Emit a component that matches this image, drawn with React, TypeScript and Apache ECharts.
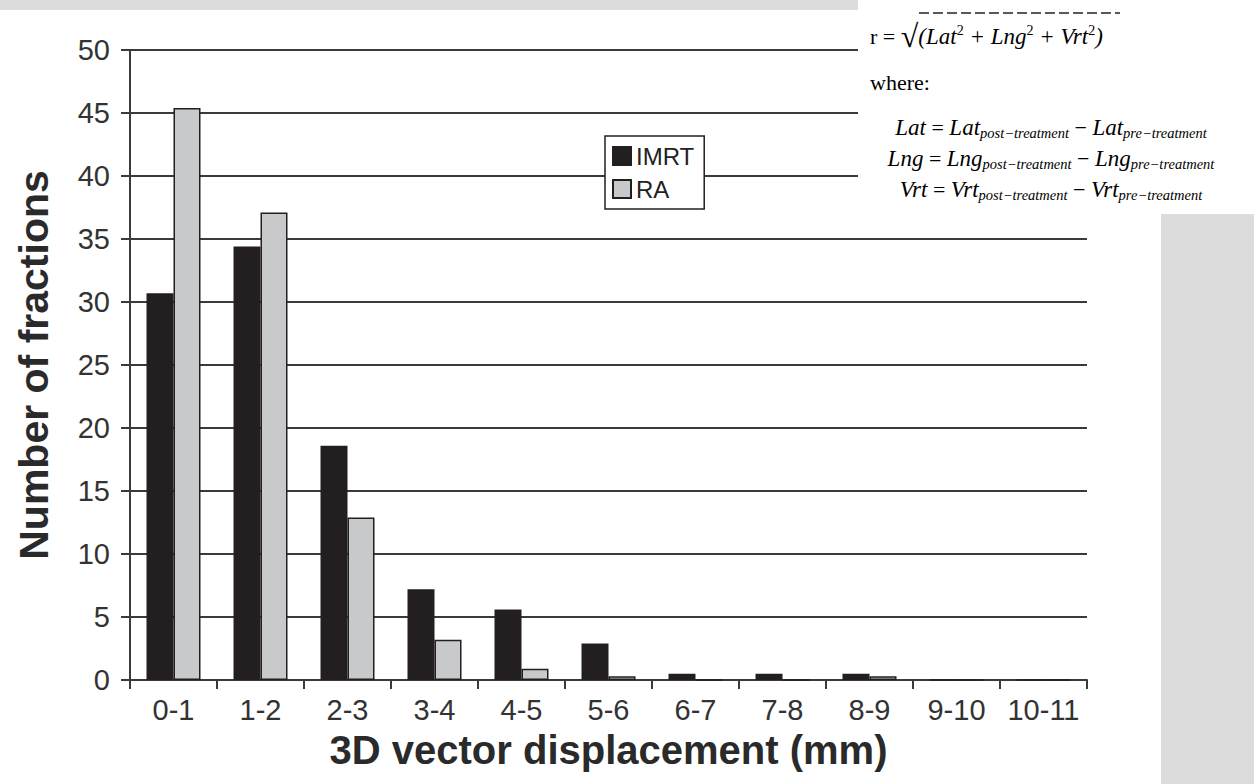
import React, { useEffect, useRef } from "react";
import * as echarts from "echarts";

const categories = ["0-1", "1-2", "2-3", "3-4", "4-5", "5-6", "6-7", "7-8", "8-9", "9-10", "10-11"];
const imrtValues = [30.7, 34.4, 18.6, 7.2, 5.6, 2.9, 0.5, 0.5, 0.5, 0, 0];
const raValues = [45.4, 37.1, 12.9, 3.2, 0.9, 0.3, 0, 0, 0.3, 0, 0];
const yTicks = { min: 0, max: 50, interval: 5 };

const DARK = "#231f20";
const GREY = "#c8c9cb";
const AXIS = "#3a3a3a";

export default function App() {
  const ref = useRef<HTMLDivElement>(null);
  useEffect(() => {
    document.body.style.margin = "0";
    const chart = echarts.init(ref.current!, undefined, { renderer: "svg" });
    const serif = "'Liberation Serif', 'DejaVu Serif', serif";
    const rich = {
      n: { fontFamily: serif, fontSize: 22, color: "#222", lineHeight: 26, verticalAlign: "middle" },
      i: { fontFamily: serif, fontStyle: "italic", fontSize: 23, color: "#222", lineHeight: 26, verticalAlign: "middle" },
      sub: { fontFamily: serif, fontStyle: "italic", fontSize: 14.5, color: "#222", lineHeight: 14, verticalAlign: "bottom" },
      sup: { fontFamily: serif, fontSize: 14, color: "#222", lineHeight: 14, verticalAlign: "top" },
      big: { fontFamily: serif, fontSize: 32, color: "#222", lineHeight: 26, verticalAlign: "middle" },
    };
    const eqLine = (v: string) =>
      `{i|${v}}{n| = }{i|${v}}{sub|post−treatment}{n| − }{i|${v}}{sub|pre−treatment}`;
    chart.setOption({
      animation: false,
      backgroundColor: "#ffffff",
      textStyle: { fontFamily: "'Liberation Sans', Arial, sans-serif" },
      grid: { left: 130, right: 167, top: 50, bottom: 104, containLabel: false },
      legend: {
        orient: "vertical",
        left: 605,
        top: 136,
        itemWidth: 18,
        itemHeight: 18,
        itemGap: 9,
        padding: [8, 10, 8, 7],
        backgroundColor: "#ffffff",
        borderColor: DARK,
        borderWidth: 1.5,
        borderRadius: 0,
        textStyle: { fontSize: 24, color: "#222", fontFamily: "'Liberation Sans', Arial, sans-serif" },
        icon: "rect",
        data: ["IMRT", "RA"],
      },
      xAxis: {
        type: "category",
        data: categories,
        boundaryGap: true,
        axisLine: { show: true, lineStyle: { color: AXIS, width: 2 } },
        axisTick: { show: true, length: 9, lineStyle: { color: AXIS, width: 2 } },
        axisLabel: { fontSize: 29, color: "#333", margin: 15, interval: 0 },
        splitLine: { show: false },
        name: "3D vector displacement (mm)",
        nameLocation: "middle",
        nameGap: 50,
        nameTextStyle: { fontSize: 40, fontWeight: "bold", color: "#2a2a2a" },
      },
      yAxis: {
        type: "value",
        min: yTicks.min,
        max: yTicks.max,
        interval: yTicks.interval,
        axisLine: { show: true, lineStyle: { color: AXIS, width: 2 } },
        axisTick: { show: true, length: 9, lineStyle: { color: AXIS, width: 2 } },
        axisLabel: { fontSize: 29, color: "#333", margin: 20 },
        splitLine: { show: true, lineStyle: { color: AXIS, width: 1.8 } },
        name: "Number of fractions",
        nameLocation: "middle",
        nameGap: 76,
        nameTextStyle: { fontSize: 41, fontWeight: "bold", color: "#2a2a2a" },
      },
      series: [
        {
          name: "IMRT",
          type: "bar",
          data: imrtValues,
          barWidth: 27,
          barGap: "0%",
          itemStyle: { color: DARK, borderColor: DARK, borderWidth: 1.5 },
        },
        {
          name: "RA",
          type: "bar",
          data: raValues,
          barWidth: 27,
          itemStyle: { color: GREY, borderColor: DARK, borderWidth: 1.5 },
        },
      ],
      graphic: [
        { type: "rect", left: 0, top: 0, shape: { width: 860, height: 10 }, style: { fill: "#dcdcdc" }, z: 100 },
        { type: "rect", left: 858, top: 0, shape: { width: 396, height: 214 }, style: { fill: "#ffffff" }, z: 100 },
        { type: "rect", left: 1161, top: 214, shape: { width: 93, height: 570 }, style: { fill: "#dcdcdc" }, z: 100 },
        {
          type: "line",
          shape: { x1: 919, y1: 13, x2: 1120, y2: 13 },
          style: { stroke: "#222", lineWidth: 1.3, lineDash: [10, 4] },
          z: 101,
        },
        {
          type: "text",
          x: 870,
          y: 36,
          style: {
            text: "{n|r = }{big|√}{i|(Lat}{sup|2}{i| + Lng}{sup|2}{i| + Vrt}{sup|2}{i|)}",
            rich,
            align: "left",
            verticalAlign: "middle",
          },
          z: 101,
        },
        {
          type: "text",
          x: 870,
          y: 82,
          style: { text: "{n|where:}", rich, align: "left", verticalAlign: "middle" },
          z: 101,
        },
        { type: "text", x: 1051, y: 127, style: { text: eqLine("Lat"), rich, align: "center", verticalAlign: "middle" }, z: 101 },
        { type: "text", x: 1051, y: 158, style: { text: eqLine("Lng"), rich, align: "center", verticalAlign: "middle" }, z: 101 },
        { type: "text", x: 1051, y: 189, style: { text: eqLine("Vrt"), rich, align: "center", verticalAlign: "middle" }, z: 101 },
      ],
    });
    return () => chart.dispose();
  }, []);
  return <div ref={ref} style={{ position: "fixed", left: 0, top: 0, width: 1254, height: 784 }} />;
}
